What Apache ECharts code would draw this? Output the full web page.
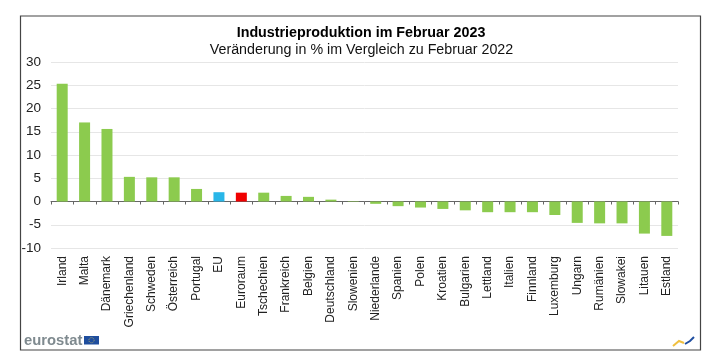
<!DOCTYPE html>
<html><head><meta charset="utf-8">
<style>html,body{margin:0;padding:0;background:#fff}#c{width:719px;height:364px}</style>
<script src="https://cdn.jsdelivr.net/npm/echarts@6/dist/echarts.min.js"></script>
</head><body><div id="c"></div>
<script>
const categories = ["Irland","Malta","Dänemark","Griechenland","Schweden","Österreich","Portugal","EU","Euroraum","Tschechien","Frankreich","Belgien","Deutschland","Slowenien","Niederlande","Spanien","Polen","Kroatien","Bulgarien","Lettland","Italien","Finnland","Luxemburg","Ungarn","Rumänien","Slowakei","Litauen","Estland"];
const values = [25.3,17.0,15.6,5.3,5.2,5.2,2.7,2.0,1.9,1.9,1.2,1.0,0.4,-0.1,-0.5,-1.0,-1.3,-1.6,-1.9,-2.3,-2.3,-2.3,-2.9,-4.6,-4.7,-4.7,-6.9,-7.4];
const barColors = {EU:"#29b6e8",Euroraum:"#f00000"};
const defaultColor = "#8ccb4e";
const titleText = "Industrieproduktion im Februar 2023";
const subtitleText = "Veränderung in % im Vergleich zu Februar 2022";
const font = "'Liberation Sans', Arial, sans-serif";
const chart = echarts.init(document.getElementById('c'),null,{renderer:'canvas'});
chart.setOption({
  animation:false,
  backgroundColor:'#fff',
  grid:{left:51,right:41,top:62,bottom:116,containLabel:false,outerBoundsMode:'none'},
  xAxis:{type:'category',data:categories,
    axisLine:{onZero:true,lineStyle:{color:'#666',width:1}},
    axisTick:{show:true,inside:false,length:3,lineStyle:{color:'#666'}},
    axisLabel:{interval:0,rotate:90,margin:8,fontFamily:font,fontSize:12,color:'#222',hideOverlap:false},
    splitLine:{show:false}},
  yAxis:{type:'value',min:-10,max:30,interval:5,
    axisLine:{show:false},axisTick:{show:false},
    axisLabel:{margin:10,fontFamily:font,fontSize:13.5,color:'#222'},
    splitLine:{show:true,lineStyle:{color:'#e6e6e6',width:1}}},
  series:[{type:'bar',barWidth:11,
    data:categories.map((c,i)=>({value:values[i],itemStyle:{color:barColors[c]||defaultColor}}))}],
  graphic:[
    {type:'rect',shape:{x:20.5,y:16,width:680,height:334},style:{fill:'none',stroke:'#444',lineWidth:1.2},silent:true},
    {type:'text',x:361,y:33.5,style:{text:titleText,font:"bold 14.3px "+font,fill:'#000',align:'center',verticalAlign:'middle'}},
    {type:'text',x:361.5,y:50.5,style:{text:subtitleText,font:"14.25px "+font,fill:'#111',align:'center',verticalAlign:'middle'}},
    {type:'text',x:24,y:340.5,style:{text:'eurostat',font:"bold 14.8px 'Liberation Sans', sans-serif",fill:'#7f8a8f',align:'left',verticalAlign:'middle'}},
    {type:'rect',shape:{x:84,y:336,width:15,height:8.5},style:{fill:'#1f4e9e'}},
    {type:'circle',shape:{cx:91.5,cy:340.2,r:2.6},style:{fill:'none',stroke:'#d8c860',lineWidth:0.7,lineDash:[1,1]}},
    {type:'polyline',shape:{points:[[673,346],[679,341],[684,343]]},style:{stroke:'#f0c040',fill:'none',lineWidth:2}},
    {type:'polyline',shape:{points:[[685,344],[690,341],[694,337]]},style:{stroke:'#1f4ea0',fill:'none',lineWidth:2}}
  ]
});
</script></body></html>
